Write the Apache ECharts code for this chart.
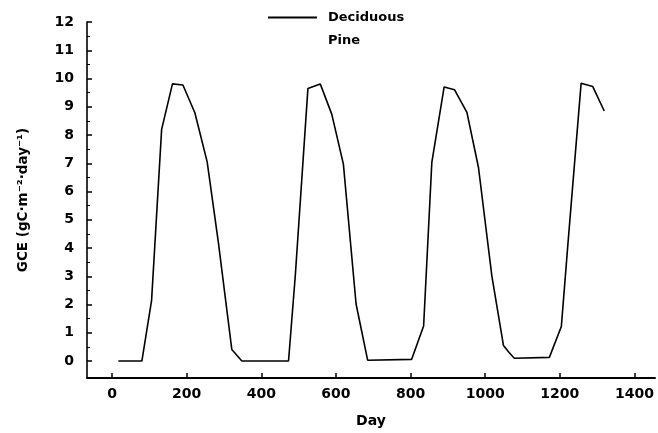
<!DOCTYPE html>
<html>
<head>
<meta charset="utf-8">
<script src="https://cdn.jsdelivr.net/npm/echarts@6/dist/echarts.min.js"></script>
<style>
html,body{margin:0;padding:0;background:#fff;}
#chart{width:658px;height:433px;}
</style>
</head>
<body>
<div id="chart"></div>
<script>
// Data
var days = [17, 80, 106, 133, 162, 190, 222, 255, 285, 321, 348, 473, 491, 525, 558, 589, 620, 654, 685, 803, 835, 857, 890, 918, 951, 982, 1018, 1049, 1064, 1078, 1172, 1204, 1222, 1257, 1288, 1319];
var deciduous = [0, 0, 2.14, 8.2, 9.81, 9.77, 8.79, 7.05, 4.2, 0.41, 0, 0, 3.0, 9.65, 9.81, 8.73, 6.97, 2.02, 0.03, 0.06, 1.24, 7.03, 9.7, 9.6, 8.8, 6.85, 3.0, 0.55, 0.3, 0.1, 0.13, 1.22, 4.2, 9.83, 9.72, 8.85];
var pine = [];
var xTicks = [0, 200, 400, 600, 800, 1000, 1200, 1400];
var yTicks = [0, 1, 2, 3, 4, 5, 6, 7, 8, 9, 10, 11, 12];
var yMinorTicks = [0.5, 1.5, 2.5, 3.5, 4.5, 5.5, 6.5, 7.5, 8.5, 9.5, 10.5, 11.5];
var seriesNames = ['Deciduous', 'Pine'];

var FONT = 'DejaVu Sans';
var chart = echarts.init(document.getElementById('chart'), null, {renderer: 'canvas'});
var decData = days.map(function (d, i) { return [d, deciduous[i]]; });
function plain(v) { return String(v); }

chart.setOption({
  backgroundColor: '#ffffff',
  animation: false,
  legend: {
    orient: 'vertical',
    left: 262,
    top: 6,
    itemWidth: 49,
    itemHeight: 14,
    itemGap: 10,
    textStyle: {fontFamily: FONT, fontWeight: 'bold', fontSize: 13, color: '#000', padding: [0, 0, 0, 6]},
    data: [
      {name: seriesNames[0], itemStyle: {opacity: 0}},
      {name: seriesNames[1], itemStyle: {opacity: 0}, lineStyle: {opacity: 0}}
    ]
  },
  grid: {left: 87, right: 3, top: 22, bottom: 54, containLabel: false},
  xAxis: [{
    type: 'value',
    min: -67,
    max: 1455,
    name: 'Day',
    nameLocation: 'middle',
    nameGap: 36,
    nameTextStyle: {fontFamily: FONT, fontWeight: 'bold', fontSize: 14, color: '#000'},
    axisLine: {show: true, onZero: false, lineStyle: {color: '#000', width: 2}},
    axisTick: {show: true, inside: true, length: 5, customValues: xTicks, lineStyle: {color: '#000', width: 1.5}},
    axisLabel: {customValues: xTicks, formatter: plain, margin: 9, fontFamily: FONT, fontWeight: 'bold', fontSize: 14, color: '#000'},
    splitLine: {show: false}
  }],
  yAxis: [{
    type: 'value',
    min: -0.6,
    max: 12,
    name: 'GCE (gC\u00b7m\u207b\u00b2\u00b7day\u207b\u00b9)',
    nameLocation: 'middle',
    nameGap: 57,
    nameRotate: 90,
    nameTextStyle: {fontFamily: FONT, fontWeight: 'bold', fontSize: 13.5, color: '#000'},
    axisLine: {show: true, onZero: false, lineStyle: {color: '#000', width: 1.6}},
    axisTick: {show: true, inside: true, length: 5, customValues: yTicks, lineStyle: {color: '#000', width: 1.5}},
    axisLabel: {customValues: yTicks, formatter: plain, margin: 13, fontFamily: FONT, fontWeight: 'bold', fontSize: 14, color: '#000'},
    splitLine: {show: false}
  }, {
    type: 'value',
    min: -0.6,
    max: 12,
    position: 'left',
    offset: 0,
    axisLine: {show: false, onZero: false},
    axisTick: {show: true, inside: true, length: 3, customValues: yMinorTicks, lineStyle: {color: '#000', width: 1}},
    axisLabel: {show: false},
    splitLine: {show: false}
  }],
  series: [{
    name: seriesNames[0],
    type: 'line',
    data: decData,
    symbol: 'none',
    lineStyle: {color: '#000', width: 1.6},
    itemStyle: {color: '#000'}
  }, {
    name: seriesNames[1],
    type: 'line',
    data: pine,
    symbol: 'none',
    lineStyle: {color: '#000', width: 1.6},
    itemStyle: {color: '#000'}
  }]
});
</script>
</body>
</html>
